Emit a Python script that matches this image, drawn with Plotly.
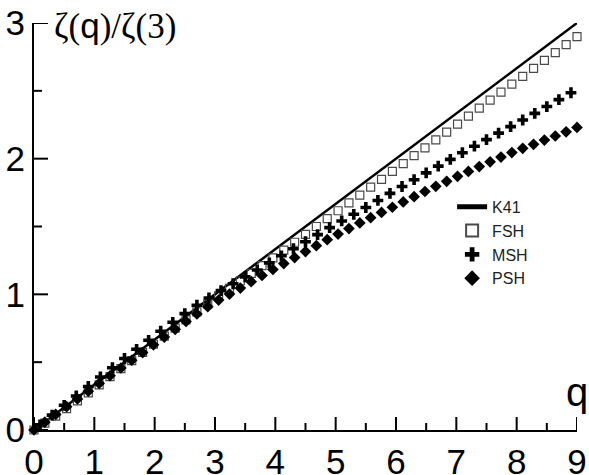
import plotly.graph_objects as go

# ---- data ----
q_k41 = [0, 9]
k41 = [0, 3]

q_fsh = [0.00, 0.18, 0.36, 0.54, 0.72, 0.90, 1.08, 1.26, 1.44, 1.62, 1.80, 1.98, 2.16,
         2.34, 2.52, 2.70, 2.88, 3.06, 3.24, 3.42, 3.60, 3.78, 3.96, 4.14, 4.32, 4.50,
         4.68, 4.86, 5.04, 5.22, 5.40, 5.58, 5.76, 5.94, 6.12, 6.30, 6.48, 6.66, 6.84,
         7.02, 7.20, 7.38, 7.56, 7.74, 7.92, 8.10, 8.28, 8.46, 8.64, 8.82, 9.00]
fsh = [0.000, 0.050, 0.102, 0.158, 0.215, 0.274, 0.333, 0.393, 0.452, 0.512, 0.572,
       0.632, 0.692, 0.751, 0.811, 0.871, 0.930, 0.988, 1.044, 1.100, 1.155, 1.212,
       1.269, 1.326, 1.384, 1.442, 1.500, 1.558, 1.616, 1.674, 1.732, 1.790, 1.848,
       1.906, 1.964, 2.022, 2.080, 2.138, 2.196, 2.254, 2.313, 2.372, 2.431, 2.490,
       2.549, 2.607, 2.665, 2.724, 2.782, 2.841, 2.900]

q_msh = [0.1, 0.3, 0.5, 0.7, 0.9, 1.1, 1.3, 1.5, 1.7, 1.9, 2.1, 2.3, 2.5, 2.7, 2.9,
         3.1, 3.3, 3.5, 3.7, 3.9, 4.1, 4.3, 4.5, 4.7, 4.9, 5.1, 5.3, 5.5, 5.7, 5.9,
         6.1, 6.3, 6.5, 6.7, 6.9, 7.1, 7.3, 7.5, 7.7, 7.9, 8.1, 8.3, 8.5, 8.7, 8.9]
msh = [0.038, 0.110, 0.182, 0.251, 0.321, 0.391, 0.459, 0.527, 0.595, 0.661, 0.728,
       0.794, 0.858, 0.920, 0.973, 1.027, 1.078, 1.129, 1.179, 1.232, 1.284, 1.336,
       1.388, 1.440, 1.492, 1.541, 1.590, 1.640, 1.692, 1.744, 1.795, 1.845, 1.895,
       1.945, 1.995, 2.044, 2.092, 2.140, 2.188, 2.236, 2.285, 2.334, 2.384, 2.435,
       2.486]

q_psh = q_fsh
psh = [0.000, 0.058, 0.115, 0.172, 0.229, 0.286, 0.343, 0.400, 0.457, 0.514, 0.571,
       0.628, 0.685, 0.742, 0.800, 0.855, 0.909, 0.958, 1.002, 1.046, 1.093, 1.139,
       1.183, 1.227, 1.271, 1.315, 1.359, 1.403, 1.444, 1.485, 1.526, 1.565, 1.604,
       1.642, 1.681, 1.720, 1.758, 1.796, 1.833, 1.870, 1.906, 1.942, 1.977, 2.012,
       2.045, 2.076, 2.106, 2.137, 2.167, 2.198, 2.230]

names = ["K41", "FSH", "MSH", "PSH"]
x_range = [0, 9]
y_range = [0, 3]
x_major = [0, 1, 2, 3, 4, 5, 6, 7, 8, 9]
x_minor = [0.5, 1.5, 2.5, 3.5, 4.5, 5.5, 6.5, 7.5, 8.5]
y_major = [0, 1, 2, 3]
y_minor = [0.5, 1.5, 2.5]

# ---- figure ----
fig = go.Figure()
fig.add_trace(go.Scatter(x=q_k41, y=k41, mode="lines", name=names[0],
                         line=dict(color="black", width=2.5)))
fig.add_trace(go.Scatter(x=q_fsh, y=fsh, mode="markers", name=names[1],
                         marker=dict(symbol="square-open", size=8, color="#4a4a4a",
                                     line=dict(width=1.2, color="#4a4a4a")),
                         cliponaxis=False))
fig.add_trace(go.Scatter(x=q_msh, y=msh, mode="markers", name=names[2],
                         marker=dict(symbol="cross", size=9, color="black",
                                     line=dict(width=0)),
                         cliponaxis=False))
fig.add_trace(go.Scatter(x=q_psh, y=psh, mode="markers", name=names[3],
                         marker=dict(symbol="diamond", size=9, color="black",
                                     line=dict(width=0)),
                         cliponaxis=False))

axis_common = dict(showgrid=False, zeroline=False, showline=True, linecolor="black",
                   linewidth=2, ticks="", mirror=False, automargin=False,
                   tickfont=dict(family="Liberation Sans, Arial", size=35, color="black"))

fig.update_xaxes(range=x_range, tickmode="array", tickvals=x_major,
                 ticktext=[str(v) for v in x_major], **axis_common)
fig.update_yaxes(range=y_range, tickmode="array", tickvals=y_major,
                 ticktext=[str(v) for v in y_major], **axis_common)

# inward tick marks, placed at the tick values through the axes' own scales
tick_line = dict(color="black", width=2)
for v, L in [(v, 13) for v in x_major] + [(v, 7) for v in x_minor]:
    fig.add_shape(type="line", xref="x", yref="y", ysizemode="pixel", yanchor=0,
                  x0=v, x1=v, y0=0, y1=L, line=tick_line, layer="above")
for v, L in [(v, 14) for v in y_major] + [(v, 8) for v in y_minor]:
    fig.add_shape(type="line", xref="x", yref="y", xsizemode="pixel", xanchor=0,
                  x0=0, x1=L, y0=v, y1=v, line=tick_line, layer="above")

fig.add_annotation(
    xref="paper", yref="paper", x=0.034, y=0.993, xanchor="left", yanchor="middle",
    showarrow=False,
    text="ζ(<span style=\"font-family:'Liberation Sans'\">q</span>)/ζ(3)",
    font=dict(family="Liberation Serif, Times New Roman, serif", size=35, color="black"))
fig.add_annotation(
    xref="paper", yref="paper", x=1.024, y=0.093, xanchor="right", yanchor="middle",
    showarrow=False, text="q",
    font=dict(family="Liberation Sans, Arial", size=40, color="black"))

fig.update_layout(
    width=589, height=475,
    margin=dict(l=34, r=12, t=23, b=45),
    plot_bgcolor="white", paper_bgcolor="white",
    legend=dict(x=0.77, y=0.59, xanchor="left", yanchor="top",
                bgcolor="rgba(0,0,0,0)", itemsizing="constant",
                font=dict(family="Liberation Sans, Arial", size=16, color="#222"),
                tracegroupgap=0),
    showlegend=True,
)

fig.write_html("out.html", config={"displayModeBar": False},
               post_script="document.body.style.margin='0';")
